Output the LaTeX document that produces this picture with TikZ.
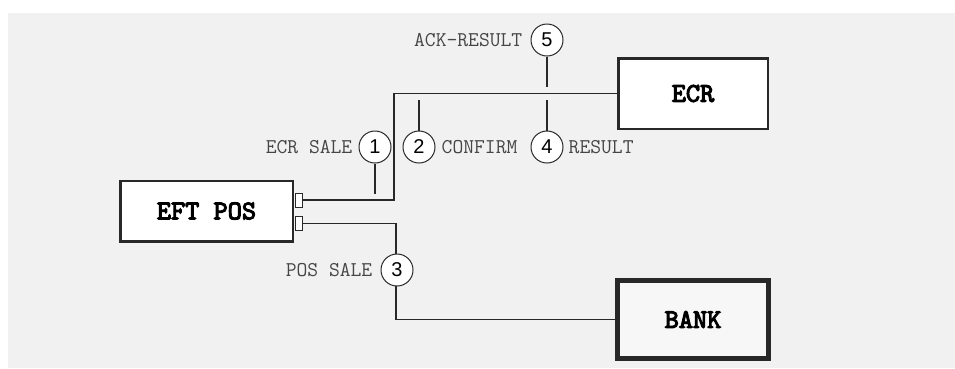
\documentclass[tikz,border=0pt]{standalone}
\usepackage{fontspec}
\setmainfont{Liberation Sans}
\newfontfamily\boxfont[FakeBold=4]{lmmono10-regular.otf}
\usepackage{tikz}
\definecolor{bggray}{RGB}{241,241,241}
\definecolor{ink}{RGB}{40,40,40}
\definecolor{txtgray}{RGB}{70,70,70}
\definecolor{bankfill}{RGB}{247,247,247}

\tikzset{
  box/.style={draw=ink, fill=white, line width=2.5pt, inner sep=0pt,
    font=\fontsize{27}{29}\selectfont\boxfont},
  port/.style={draw=ink, fill=white, line width=1pt, inner sep=0pt,
    minimum width=7pt, minimum height=14pt},
  num/.style={circle, draw=ink, fill=white, line width=1pt, inner sep=0pt,
    minimum size=32pt, font=\fontsize{20}{22}\selectfont},
  tag/.style={text=txtgray, inner sep=0pt,
    font=\fontsize{21}{23}\selectfont\ttfamily},
  wire/.style={draw=ink, line width=1.3pt}
}

\begin{document}
\begin{tikzpicture} [x=1pt,y=-1pt]
\useasboundingbox (0,0) rectangle (955,368);
\fill [bggray] (8,13) rectangle (955,368);
% terminals
\node [box, minimum width=172.5pt, minimum height=60.5pt] (eftpos) at (206.5,211) {EFT POS};
\node [box, minimum width=149.5pt, minimum height=70.5pt] (ecr) at (693,93.5) {ECR};
\node [box, fill=bankfill, line width=5pt, minimum width=151pt, minimum height=78pt] (bank) at (693,319.5) {BANK};
\node [port] (p1) at (298.5,200) {};
\node [port] (p2) at (298.5,223.5) {};
% wires
\coordinate (k1) at (394,200);
\coordinate (k2) at (396,319.5);
\draw [wire] (p1.east)--(k1) |- (ecr.west);
\draw [wire] (p2.east) -| (k2)--(bank.west);
% messages
\node [num, label={[tag, label distance=6pt]left:{ECR SALE}}] (c1) at (375,147) {1};
\node [num, label={[tag, label distance=6pt]right:{CONFIRM}}] (c2) at (419,147) {2};
\node [num, label={[tag, label distance=8pt]left:{POS SALE}}] (c3) at (397,270) {3};
\node [num, label={[tag, label distance=5pt]right:{RESULT}}] (c4) at (547,147) {4};
\node [num, label={[tag, label distance=8pt]left:{ACK-RESULT}}] (c5) at (547,40) {5};
\coordinate (s1) at (375,194);
\coordinate (s2) at (419,100);
\coordinate (s4) at (547,100);
\coordinate (s5) at (547,87);
\draw [wire] (c1)--(s1);
\draw [wire] (c2)--(s2);
\draw [wire] (c4)--(s4);
\draw [wire] (c5)--(s5);
\end{tikzpicture}
\end{document}
